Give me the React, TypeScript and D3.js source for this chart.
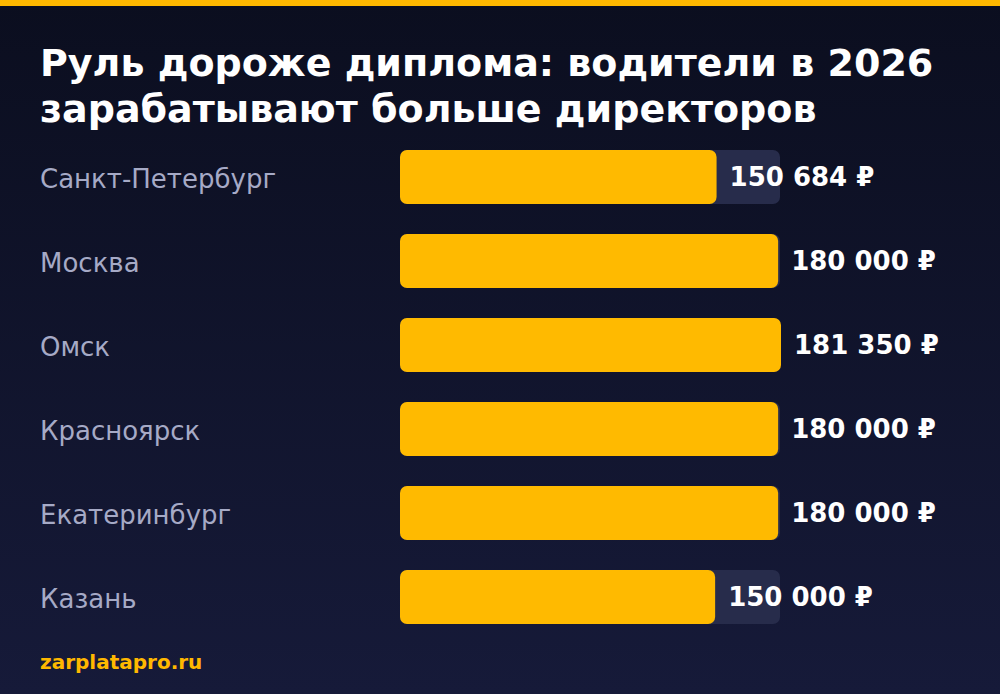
import React from "react";
import * as d3 from "d3";

const cities = ["Санкт-Петербург", "Москва", "Омск", "Красноярск", "Екатеринбург", "Казань"];
const salaries = [150684, 180000, 181350, 180000, 180000, 150000];
const titleLines = ["Руль дороже диплома: водители в 2026", "зарабатывают больше директоров"];
const source = "zarplatapro.ru";

const W = 1000;
const H = 694;
const FONT = "'DejaVu Sans', sans-serif";

export default function App() {
  const x = d3.scaleLinear().domain([0, d3.max(salaries) as number]).range([0, 381]);
  const y = d3.scaleBand().domain(cities).range([150, 624]).paddingInner(30 / 84).paddingOuter(0);
  const barH = y.bandwidth();
  const fmt = (v: number) => d3.format(",")(v).replace(/,/g, " ") + " ₽";
  return (
    <div style={{ position: "fixed", left: 0, top: 0, width: W, height: H }}>
      <svg width={W} height={H} style={{ display: "block" }}>
        <defs>
          <linearGradient id="bg" x1="0" y1="0" x2="0" y2="1">
            <stop offset="0%" stopColor="#0b0e1f" />
            <stop offset="100%" stopColor="#161a39" />
          </linearGradient>
        </defs>
        <rect x={0} y={0} width={W} height={H} fill="url(#bg)" />
        <rect x={0} y={0} width={W} height={6} fill="#ffb800" />
        {titleLines.map((t, i) => (
          <text key={i} x={40} y={76 + i * 46} fill="#ffffff" fontFamily={FONT} fontWeight="bold" fontSize={38}>
            {t}
          </text>
        ))}
        {cities.map((c, i) => {
          const yy = y(c) as number;
          const v = salaries[i];
          return (
            <g key={c}>
              <text x={40} y={yy + barH / 2 + 1} dy="0.37em" fill="#a6aac6" fontFamily={FONT} fontSize={26}>
                {c}
              </text>
              <rect x={400} y={yy} width={380} height={barH} rx={7} fill="#272c4b" />
              <rect x={400} y={yy} width={x(v)} height={barH} rx={7} fill="#ffba00" />
              <text x={400 + x(v) + 13} y={yy + barH / 2} dy="0.36em" fill="#ffffff" fontFamily={FONT} fontWeight="bold" fontSize={26}>
                {fmt(v)}
              </text>
            </g>
          );
        })}
        <text x={40} y={669} fill="#ffb800" fontFamily={FONT} fontWeight="bold" fontSize={20}>
          {source}
        </text>
      </svg>
    </div>
  );
}
